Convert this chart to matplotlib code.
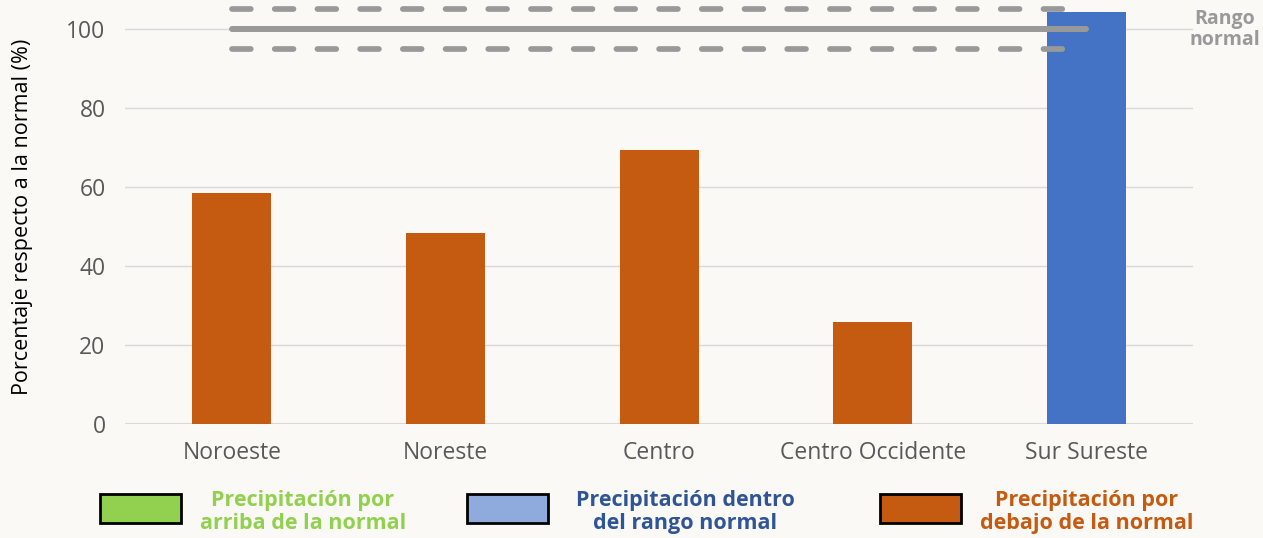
import matplotlib.pyplot as plt
from matplotlib.patches import Rectangle

# datos
regiones = ['Noroeste', 'Noreste', 'Centro', 'Centro Occidente', 'Sur Sureste']
porcentajes = [58.5, 48.4, 69.4, 25.8, 104.3]
colores = ['#c55a11', '#c55a11', '#c55a11', '#c55a11', '#4472c4']
normal = 100
rango = 5
yticks = [0, 20, 40, 60, 80, 100]

plt.rcParams['font.family'] = ['Open Sans', 'DejaVu Sans']

fig = plt.figure(figsize=(12.63, 5.38), dpi=100, facecolor='#fbf9f6')
ax = fig.add_axes([0.099, 0.212, 0.8456, 0.788])
ax.set_facecolor('none')

x = list(range(len(regiones)))
ax.bar(x, porcentajes, width=0.37, color=colores, zorder=2)

# rango normal
ax.plot([0, 4], [normal, normal], color='#999999', lw=4.3, solid_capstyle='round', zorder=3)
for y in (normal - rango, normal + rango):
    ax.plot([0, 4], [y, y], color='#999999', lw=4.1, dashes=(3.3, 4.2),
            dash_capstyle='round', zorder=3)
ax.text(1.03, 0.93, 'Rango\nnormal', transform=ax.transAxes, ha='center', va='center',
        color='#999999', fontsize=14, fontweight='bold', linespacing=1.05)

ax.set_xlim(-0.5, 4.5)
ax.set_ylim(0, 107.3)
ax.set_xticks(x)
ax.set_xticklabels(regiones)
ax.set_yticks(yticks)
ax.grid(axis='y', color='#d9d9d9', lw=1, zorder=0)
ax.axhline(0, color='#d9d9d9', lw=1.5, zorder=1)
for s in ax.spines.values():
    s.set_visible(False)
ax.tick_params(length=0, labelsize=16.5, labelcolor='#595959')
ax.tick_params(axis='y', pad=14)
ax.tick_params(axis='x', pad=12)
ax.set_ylabel('Porcentaje respecto a la normal (%)', fontsize=15.5, color='black', va='center')
ax.yaxis.set_label_coords(-0.096, 0.488)

# leyenda inferior
leyenda = [
    ('#92d050', '#92d050', 'Precipitación por\narriba de la normal', 100, 303),
    ('#8faadc', '#2f5597', 'Precipitación dentro\ndel rango normal', 467, 685),
    ('#c55a11', '#c55a11', 'Precipitación por\ndebajo de la normal', 880, 1087),
]
W, H = 1263, 538
for caja, ctext, texto, x0, xt in leyenda:
    fig.patches.append(Rectangle((x0 / W, (H - 523) / H), 81 / W, 29 / H,
                                 transform=fig.transFigure, facecolor=caja,
                                 edgecolor='black', lw=2))
    fig.text(xt / W, (H - 512) / H, texto, ha='center', va='center', color=ctext,
             fontsize=15.5, fontweight='bold', linespacing=1.15)

plt.savefig('out.png', dpi=100, facecolor=fig.get_facecolor())
